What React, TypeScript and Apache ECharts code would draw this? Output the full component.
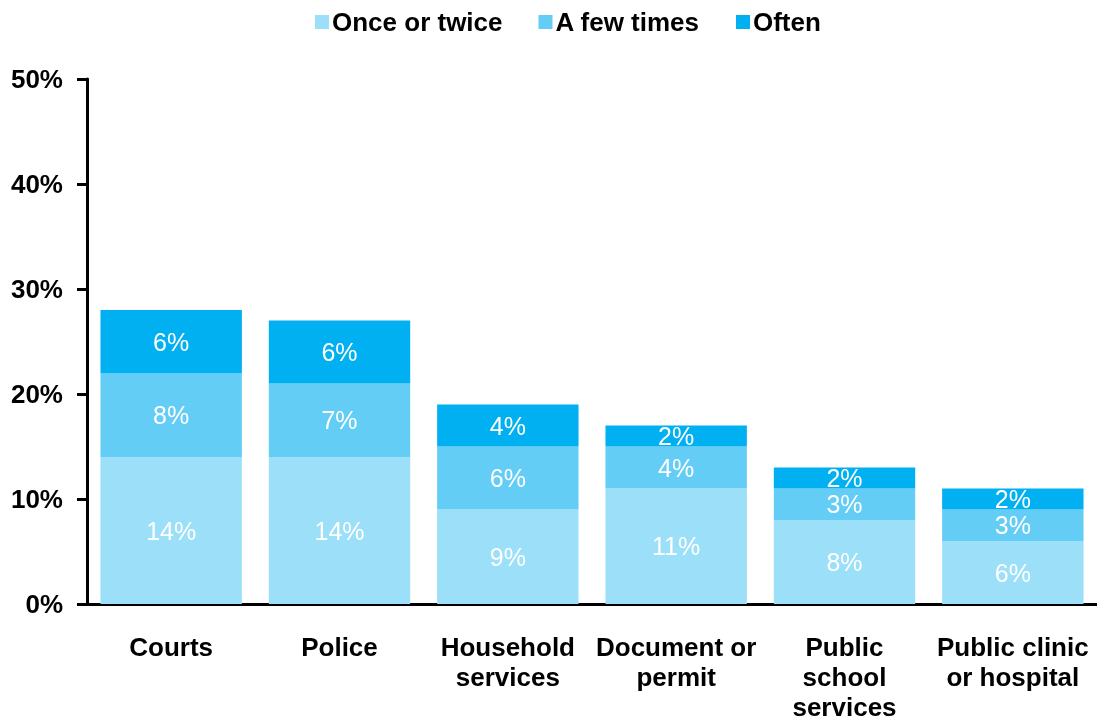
import React, { useEffect, useRef } from "react";
import * as echarts from "echarts";

const categories = ["Courts", "Police", "Household\nservices", "Document or\npermit", "Public\nschool\nservices", "Public clinic\nor hospital"];
const onceOrTwice = [14, 14, 9, 11, 8, 6];
const aFewTimes = [8, 7, 6, 4, 3, 3];
const often = [6, 6, 4, 2, 2, 2];
const seriesNames = ["Once or twice", "A few times", "Often"];
const colors = ["#9BDFF8", "#63CDF5", "#00B0F0"];

export default function App() {
  const ref = useRef<HTMLDivElement>(null);
  useEffect(() => {
    if (!ref.current) return;
    const chart = echarts.init(ref.current, undefined, { renderer: "svg" });
    const font = "Liberation Sans, Arial, sans-serif";
    const mk = (name: string, data: number[], color: string) => ({
      name,
      type: "bar",
      stack: "total",
      data,
      barCategoryGap: "16%",
      itemStyle: { color },
      label: {
        show: true,
        position: "inside",
        formatter: (p: any) => p.value + "%",
        color: "#ffffff",
        fontSize: 25,
        fontFamily: font,
      },
    });
    chart.setOption({
      animation: false,
      textStyle: { fontFamily: font },
      legend: {
        top: 4,
        left: 310,
        itemWidth: 14,
        itemHeight: 14,
        itemGap: 36,
        icon: "rect",
        textStyle: { fontSize: 26, fontWeight: "bold", color: "#000", fontFamily: font, padding: [0, 0, 0, -2] },
        data: seriesNames,
      },
      grid: { left: 87, right: 0, top: 79, bottom: 120, containLabel: false, outerBoundsMode: "none" },
      xAxis: {
        type: "category",
        data: categories,
        axisLine: { lineStyle: { color: "#000", width: 3 } },
        axisTick: { show: false },
        axisLabel: {
          fontSize: 26,
          fontWeight: "bold",
          color: "#000",
          lineHeight: 30,
          margin: 28,
          interval: 0,
          fontFamily: font,
        },
      },
      yAxis: {
        type: "value",
        min: 0,
        max: 50,
        interval: 10,
        splitLine: { show: false },
        axisLine: { show: true, lineStyle: { color: "#000", width: 3 } },
        axisTick: { show: true, length: 10, lineStyle: { color: "#000", width: 3 } },
        axisLabel: {
          formatter: "{value}%",
          fontSize: 26,
          fontWeight: "bold",
          color: "#000",
          margin: 24,
          fontFamily: font,
        },
      },
      series: [
        mk(seriesNames[0], onceOrTwice, colors[0]),
        mk(seriesNames[1], aFewTimes, colors[1]),
        mk(seriesNames[2], often, colors[2]),
      ],
    });
    return () => chart.dispose();
  }, []);
  return <div ref={ref} style={{ position: "fixed", left: 0, top: 0, width: 1097, height: 724 }} />;
}
